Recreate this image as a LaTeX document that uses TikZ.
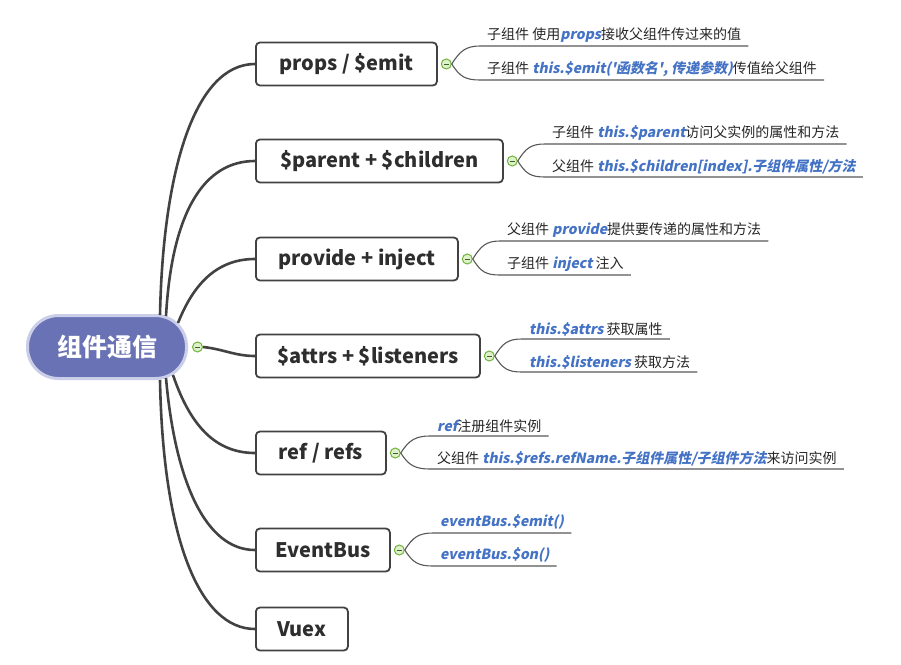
\documentclass[tikz,border=0pt]{standalone}
\usepackage{fontspec}
\setmainfont{Noto Sans CJK SC}
\newfontfamily\codefont[FakeSlant=0.2]{Noto Sans CJK SC}
\usetikzlibrary{positioning,calc}
\definecolor{RootFill}{RGB}{104,114,180}
\definecolor{RootEdge}{RGB}{202,206,232}
\definecolor{LineGray}{RGB}{66,66,66}
\definecolor{LeafGray}{RGB}{88,88,88}
\definecolor{CodeBlue}{RGB}{68,114,196}
\definecolor{FoldGreen}{RGB}{112,180,60}
\definecolor{FoldFill}{RGB}{222,240,204}
\newcommand{\code}[1]{{\codefont\bfseries\color{CodeBlue}#1}}

\tikzset{
  rootbox/.style={draw=RootEdge,line width=3pt,fill=RootFill,rounded corners=31pt,
    minimum width=159,minimum height=63,text=white,font=\fontsize{25}{28}\selectfont\bfseries},
  topic/.style={draw=LineGray,line width=1.8pt,rounded corners=4pt,fill=white,
    minimum height=43,anchor=west,text=black!82,font=\fontsize{20}{23}\selectfont\bfseries},
  fold/.style={circle,draw=FoldGreen,fill=FoldFill,line width=1pt,minimum size=10pt,inner sep=0pt,
    path picture={\draw[FoldGreen!55!black,line width=1pt]
      ([xshift=-2.8pt]path picture bounding box.center) -- ([xshift=2.8pt]path picture bounding box.center);}},
  branch/.style={draw=LineGray,line width=2.6pt},
  twig/.style={draw=LeafGray,line width=1.1pt},
  leaf/.style={anchor=south west,inner xsep=7pt,inner ysep=3pt,text=black!85,font=\fontsize{14}{16}\selectfont},
}

\begin{document}
\begin{tikzpicture}[x=1pt,y=-1pt]
\useasboundingbox (0,0) rectangle (901,664);

% centre topic
\node[rootbox] (root) at (107,347) {组件通信};
\node[fold,right=4pt of root] (f0) {};

% main topics
\node[topic,minimum width=181] (props) at (255,64) {props / \$emit};
\node[topic,minimum width=247] (parent) at (255,161) {\$parent + \$children};
\node[topic,minimum width=202] (provide) at (255,259) {provide + inject};
\node[topic,minimum width=224] (attrs) at (255,356) {\$attrs + \$listeners};
\node[topic,minimum width=130] (refs) at (255,453) {ref / refs};
\node[topic,minimum width=134] (bus) at (255,550) {EventBus};
\node[topic,minimum width=92] (vuex) at (255,629) {Vuex};

\draw[branch] ([shift={(53,-32)}]root.center) .. controls +(3,-145) and +(-60,0) .. (props.west);
\draw[branch] ([shift={(59,-31)}]root.center) .. controls +(6,-106) and +(-50,0) .. (parent.west);
\draw[branch] ([shift={(71,-24)}]root.center) .. controls +(17,-43) and +(-35,0) .. (provide.west);
\draw[branch] (f0.east) .. controls +(20,2) and +(-20,0) .. (attrs.west);
\draw[branch] ([shift={(66,28)}]root.center) .. controls +(17,50) and +(-40,0) .. (refs.west);
\draw[branch] ([shift={(59,31)}]root.center) .. controls +(9,102) and +(-50,0) .. (bus.west);
\draw[branch] ([shift={(53,33)}]root.center) .. controls +(3,160) and +(-55,0) .. (vuex.west);

\node[fold,right=3pt of props] (f1) {};
\node[fold,right=3pt of parent] (f2) {};
\node[fold,right=3pt of provide] (f3) {};
\node[fold,right=3pt of attrs] (f4) {};
\node[fold,right=3pt of refs] (f5) {};
\node[fold,right=3pt of bus] (f6) {};

% subtopics
\node[leaf] (l1a) at (480,46) {子组件 使用\code{props}接收父组件传过来的值};
\node[leaf] (l1b) at (480,80) {子组件 \code{this.\$emit(\textquotesingle 函数名\textquotesingle, 传递参数)}传值给父组件};
\node[leaf] (l2a) at (545,144) {子组件 \code{this.\$parent}访问父实例的属性和方法};
\node[leaf] (l2b) at (545,177) {父组件 \code{this.\$children[index].子组件属性/方法}};
\node[leaf] (l3a) at (500,241) {父组件 \code{provide}提供要传递的属性和方法};
\node[leaf] (l3b) at (500,275) {子组件 \code{inject} 注入};
\node[leaf] (l4a) at (522,339) {\code{this.\$attrs} 获取属性};
\node[leaf] (l4b) at (522,372) {\code{this.\$listeners} 获取方法};
\node[leaf] (l5a) at (430,436) {\code{ref}注册组件实例};
\node[leaf] (l5b) at (430,469) {父组件 \code{this.\$refs.refName.子组件属性/子组件方法}来访问实例};
\node[leaf] (l6a) at (433,533) {\code{eventBus.\$emit()}};
\node[leaf] (l6b) at (433,566) {\code{eventBus.\$on()}};

\foreach \f/\a/\b in {f1/l1a/l1b,f2/l2a/l2b,f3/l3a/l3b,f4/l4a/l4b,f5/l5a/l5b,f6/l6a/l6b}{
  \draw[twig] (\f.east) .. controls +(8,-13) and +(-14,0) .. (\a.south west) -- (\a.south east);
  \draw[twig] (\f.east) .. controls +(8,13) and +(-14,0) .. (\b.south west) -- (\b.south east);
}
\end{tikzpicture}
\end{document}
